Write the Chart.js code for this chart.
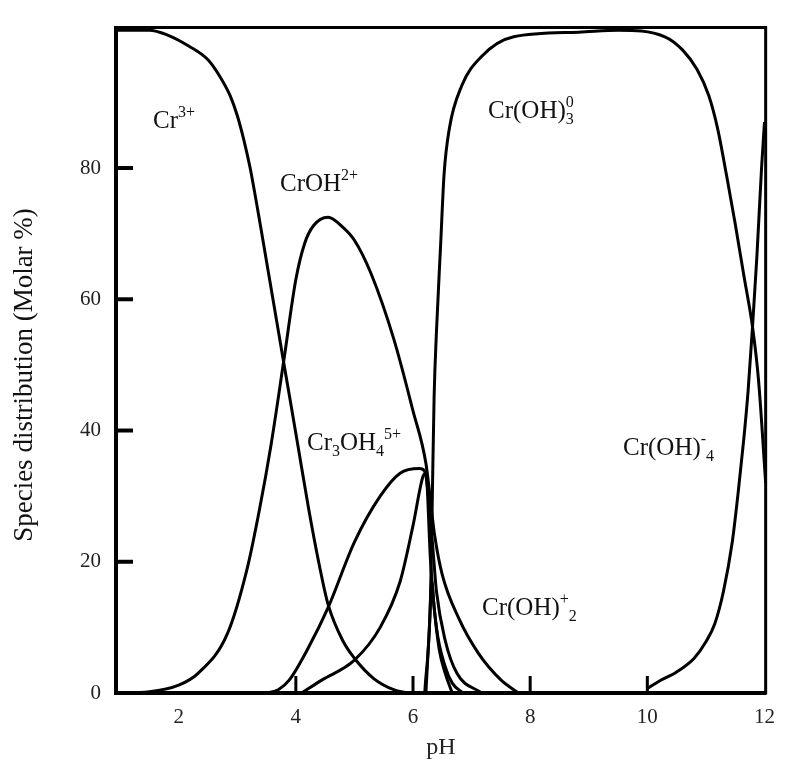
<!DOCTYPE html>
<html>
<head>
<meta charset="utf-8">
<script src="https://cdn.jsdelivr.net/npm/chart.js@4.4.1/dist/chart.umd.min.js"></script>
<style>
  html, body { margin: 0; padding: 0; background: #fff; }
  #wrap { width: 787px; height: 762px; }
</style>
</head>
<body>
<div id="wrap"><canvas id="chart" width="787" height="762"></canvas></div>
<script>
// values (pH, molar %)
const cr3pH   = [0.93, 1.5, 1.8, 2.17, 2.5, 2.7, 2.88, 3.0, 3.12, 3.22, 3.4, 3.6, 3.8, 4.03, 4.22, 4.4, 4.55, 4.8, 5.0, 5.33, 5.67, 5.9];
const cr3Val  = [101, 101, 100.3, 98.6, 96.5, 94, 91, 88, 84, 80, 71, 60.5, 50, 38, 28, 19.5, 13.5, 8, 5.3, 2.2, 0.5, 0];

const croh2pH  = [0.93, 1.5, 2.0, 2.33, 2.83, 3.17, 3.38, 3.58, 3.8, 4.0, 4.15, 4.3, 4.55, 4.8, 5.0, 5.28, 5.67, 6.0, 6.22, 6.37, 6.5, 6.78, 7.12, 7.5, 7.8];
const croh2Val = [0, 0.2, 1.2, 3, 9, 19, 28, 38, 51, 63, 68.5, 71.2, 72.5, 71, 69, 64, 54, 43, 35, 24, 18, 11.4, 6, 2, 0];

const cr3oh4pH  = [3.5, 3.7, 3.89, 4.22, 4.55, 5.0, 5.44, 5.78, 6.11, 6.2, 6.33, 6.4, 6.55, 6.75, 7.17];
const cr3oh4Val = [0, 0.5, 2, 7, 13, 23, 30, 33.5, 34.2, 33.8, 23, 15.5, 8, 3, 0];

const cr2oh2pH  = [4.1, 4.45, 5.0, 5.44, 5.78, 6.0, 6.17, 6.22, 6.3, 6.4, 6.55, 6.67, 6.85];
const cr2oh2Val = [0, 2, 5, 10, 17, 25.5, 33, 33.5, 20, 10, 4, 1.5, 0];

const croh3pH  = [6.2, 6.3, 6.33, 6.36, 6.4, 6.47, 6.53, 6.62, 6.83, 7.17, 7.72, 8.83, 9.5, 10.3, 10.6, 10.85, 11.05, 11.2, 11.35, 11.5, 11.65, 11.8, 11.9, 12.02];
const croh3Val = [0, 15, 30, 45, 55, 68, 79, 86, 92.5, 97, 100, 100.7, 101, 100, 98, 95, 91, 86, 79, 71.5, 63.5, 55.5, 47.5, 32];

const croh2pPH  = [6.22, 6.28, 6.32, 6.36, 6.45, 6.55, 6.67];
const croh2pVal = [0, 10, 17, 13, 6.5, 3, 0];

const croh4pH  = [10.0, 10.2, 10.5, 10.8, 11.0, 11.15, 11.3, 11.45, 11.55, 11.65, 11.72, 11.8, 11.87, 11.95, 12.0];
const croh4Val = [0.7, 1.8, 3.2, 5.3, 7.8, 10.5, 15.5, 23, 30.5, 39, 46, 56.4, 66.5, 80, 87];

const xTickLabels = [2, 4, 6, 8, 10, 12];
const yTickLabels = [0, 20, 40, 60, 80];
const xTickMarks = [4, 6, 8, 10];
const yTickMarks = [20, 40, 60, 80];

function pts(xs, ys) {
  return xs.map((v, i) => ({ x: v, y: ys[i] }));
}

function series(xs, ys) {
  return {
    data: pts(xs, ys),
    borderColor: '#000',
    borderWidth: 3,
    pointRadius: 0,
    fill: false,
    cubicInterpolationMode: 'monotone'
  };
}

// species labels, drawn in pixels on top of the plot
const labels = [
  { at: [153, 128], parts: [['Cr', 'n'], ['3+', 'sup']] },
  { at: [280, 191], parts: [['CrOH', 'n'], ['2+', 'sup']] },
  { at: [488, 118], parts: [['Cr(OH)', 'n'], ['0', 'sup', true], ['3', 'sub']] },
  { at: [307, 450], parts: [['Cr', 'n'], ['3', 'sub'], ['OH', 'n'], ['4', 'sub'], ['5+', 'sup']] },
  { at: [623, 455], parts: [['Cr(OH)', 'n'], ['-', 'sup'], ['4', 'sub']] },
  { at: [482, 615], parts: [['Cr(OH)', 'n'], ['+', 'sup'], ['2', 'sub']] }
];

const SERIF = '"Liberation Serif", "DejaVu Serif", serif';

function drawChem(ctx, x, y, parts) {
  let cx = x;
  ctx.textBaseline = 'alphabetic';
  ctx.textAlign = 'left';
  for (const [txt, kind, stack] of parts) {
    let dy = 0;
    if (kind === 'n') ctx.font = '25px ' + SERIF;
    else ctx.font = '16px ' + SERIF;
    if (kind === 'sup') dy = -11;
    if (kind === 'sub') dy = 6;
    ctx.fillText(txt, cx, y + dy);
    if (!stack) cx += ctx.measureText(txt).width;
  }
}

const framePlugin = {
  id: 'frame',
  afterDraw(chart) {
    const { ctx, chartArea: { left, right, top, bottom }, scales: { x, y } } = chart;
    ctx.save();
    ctx.strokeStyle = '#000';
    ctx.fillStyle = '#111';
    ctx.lineCap = 'square';

    // top and right frame
    ctx.lineWidth = 3;
    ctx.beginPath();
    ctx.moveTo(left, top);
    ctx.lineTo(right, top);
    ctx.lineTo(right, bottom);
    ctx.stroke();

    // inward tick marks
    ctx.lineCap = 'butt';
    ctx.lineWidth = 4;
    for (const v of yTickMarks) {
      const py = y.getPixelForValue(v);
      ctx.beginPath();
      ctx.moveTo(left, py);
      ctx.lineTo(left + 17, py);
      ctx.stroke();
    }
    ctx.lineWidth = 3;
    for (const v of xTickMarks) {
      const px = x.getPixelForValue(v);
      ctx.beginPath();
      ctx.moveTo(px, bottom);
      ctx.lineTo(px, bottom - 17);
      ctx.stroke();
    }

    for (const l of labels) drawChem(ctx, l.at[0], l.at[1], l.parts);

    // y-axis title
    ctx.font = '27px ' + SERIF;
    ctx.textAlign = 'center';
    ctx.textBaseline = 'middle';
    ctx.translate(25, 375);
    ctx.rotate(-Math.PI / 2);
    ctx.fillText('Species distribution (Molar %)', 0, 0);
    ctx.restore();
  }
};

new Chart(document.getElementById('chart'), {
  type: 'line',
  data: {
    datasets: [
      series(cr3pH, cr3Val),
      series(croh2pH, croh2Val),
      series(cr3oh4pH, cr3oh4Val),
      series(cr2oh2pH, cr2oh2Val),
      series(croh3pH, croh3Val),
      series(croh2pPH, croh2pVal),
      series(croh4pH, croh4Val)
    ]
  },
  options: {
    responsive: false,
    animation: false,
    layout: { padding: { top: 17, right: 6, left: 0, bottom: 0 } },
    plugins: { legend: { display: false }, tooltip: { enabled: false } },
    scales: {
      x: {
        type: 'linear',
        min: 0.93,
        max: 12.02,
        afterBuildTicks: s => { s.ticks = xTickLabels.map(v => ({ value: v })); },
        afterFit: s => { s.height = 69; },
        grid: { display: false, drawTicks: false },
        border: { display: true, color: '#000', width: 4 },
        ticks: { color: '#222', font: { family: SERIF, size: 21 }, padding: 12, maxRotation: 0 },
        title: { display: true, text: 'pH', color: '#222', font: { family: SERIF, size: 24 }, padding: { top: 0, bottom: 0 } }
      },
      y: {
        type: 'linear',
        min: 0,
        max: 101.4,
        afterBuildTicks: s => { s.ticks = yTickLabels.map(v => ({ value: v })); },
        afterFit: s => { s.width = 116; },
        grid: { display: false, drawTicks: false },
        border: { display: true, color: '#000', width: 4 },
        ticks: { color: '#222', font: { family: SERIF, size: 21 }, padding: 15 }
      }
    }
  },
  plugins: [framePlugin]
});
</script>
</body>
</html>
